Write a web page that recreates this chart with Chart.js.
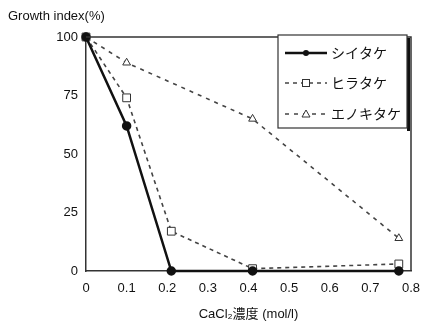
<!DOCTYPE html>
<html>
<head>
<meta charset="utf-8">
<script src="https://cdn.jsdelivr.net/npm/chart.js@4/dist/chart.umd.min.js"></script>
<style>
  body { margin: 0; background: #fff; }
  #wrap { width: 421px; height: 322px; }
</style>
</head>
<body>
<div id="wrap"><canvas id="growthChart"></canvas></div>
<script>
// data
const seriesNames = ["シイタケ", "ヒラタケ", "エノキタケ"];
const concShiitake = [0, 0.1, 0.21, 0.41, 0.77];
const shiitake = [100, 62, 0, 0, 0];
const concHiratake = [0, 0.1, 0.21, 0.41, 0.77];
const hiratake = [100, 74, 17, 1, 3];
const concEnoki = [0, 0.1, 0.41, 0.77];
const enokitake = [100, 89, 65, 14];
const yTicks = [0, 25, 50, 75, 100];

const toPoints = (xs, ys) => xs.map((x, i) => ({ x: x, y: ys[i] }));

const tickFont = { family: "Arial, 'Liberation Sans', sans-serif", size: 13 };
const jpFont = "'Noto Sans CJK JP', sans-serif";

// frame, y title and the boxed legend
const extras = {
  id: "extras",
  afterDraw(chart) {
    const c = chart.ctx;
    const a = chart.chartArea;
    c.save();

    // top and right edge of the plot box
    c.strokeStyle = "#333";
    c.lineWidth = 1.5;
    c.beginPath();
    c.moveTo(a.left, a.top);
    c.lineTo(a.right, a.top);
    c.lineTo(a.right, a.bottom);
    c.stroke();

    // y axis title
    c.fillStyle = "#111";
    c.font = "13px Arial, 'Liberation Sans', sans-serif";
    c.textBaseline = "middle";
    c.fillText("Growth index(%)", 8, 16);

    // legend box with shadow
    const bx = 278, by = 35, bw = 129, bh = 93;
    c.fillStyle = "#fff";
    c.fillRect(bx, by, bw, bh);
    c.fillStyle = "#111";
    c.fillRect(bx + bw, by + 3, 3, bh);
    c.strokeStyle = "#333";
    c.lineWidth = 1.2;
    c.strokeRect(bx, by, bw, bh);

    const rowsY = [53, 83, 114];
    chart.data.datasets.forEach((ds, i) => {
      const y = rowsY[i];
      c.strokeStyle = ds.borderColor;
      c.lineWidth = ds.borderWidth;
      c.setLineDash(ds.borderDash || []);
      c.beginPath();
      c.moveTo(285, y);
      c.lineTo(327, y);
      c.stroke();
      c.setLineDash([]);
      c.lineWidth = 1;
      c.fillStyle = ds.pointBackgroundColor;
      c.strokeStyle = ds.pointBorderColor;
      const px = 306;
      if (ds.pointStyle === "circle") {
        c.beginPath();
        c.arc(px, y, 3, 0, Math.PI * 2);
        c.fill();
      } else if (ds.pointStyle === "rect") {
        c.fillStyle = "#fff";
        c.fillRect(px - 3.5, y - 3.5, 7, 7);
        c.strokeRect(px - 3.5, y - 3.5, 7, 7);
      } else {
        c.fillStyle = "#fff";
        c.beginPath();
        c.moveTo(px, y - 4);
        c.lineTo(px + 4, y + 3);
        c.lineTo(px - 4, y + 3);
        c.closePath();
        c.fill();
        c.stroke();
      }
      c.fillStyle = "#111";
      c.font = "14px " + jpFont;
      c.textBaseline = "middle";
      c.fillText(ds.label, 331, y);
    });

    c.restore();
  }
};

new Chart(document.getElementById("growthChart"), {
  type: "scatter",
  data: {
    datasets: [
      {
        label: seriesNames[0],
        data: toPoints(concShiitake, shiitake),
        showLine: true,
        borderColor: "#111",
        borderWidth: 2.5,
        pointStyle: "circle",
        pointRadius: 3.5,
        pointBackgroundColor: "#111",
        pointBorderColor: "#111",
        order: 1
      },
      {
        label: seriesNames[1],
        data: toPoints(concHiratake, hiratake),
        showLine: true,
        borderColor: "#444",
        borderWidth: 1.6,
        borderDash: [4, 4],
        pointStyle: "rect",
        pointRadius: 5.5,
        pointBackgroundColor: "#fff",
        pointBorderColor: "#333",
        pointBorderWidth: 1,
        order: 2
      },
      {
        label: seriesNames[2],
        data: toPoints(concEnoki, enokitake),
        showLine: true,
        borderColor: "#444",
        borderWidth: 1.6,
        borderDash: [4, 5],
        pointStyle: "triangle",
        pointRadius: 4.5,
        pointBackgroundColor: "#fff",
        pointBorderColor: "#333",
        pointBorderWidth: 1,
        order: 3
      }
    ]
  },
  options: {
    responsive: true,
    maintainAspectRatio: false,
    animation: false,
    clip: false,
    layout: { padding: { top: 37, right: 10, left: 0, bottom: 0 } },
    plugins: {
      legend: { display: false },
      tooltip: { enabled: false }
    },
    scales: {
      x: {
        type: "linear",
        min: 0,
        max: 0.8,
        ticks: {
          stepSize: 0.1,
          color: "#111",
          font: tickFont,
          padding: 10,
          callback: (v) => (v === 0 ? "0" : v.toFixed(1))
        },
        grid: { display: false, drawTicks: false },
        border: { display: true, color: "#333", width: 1.5 },
        title: {
          display: true,
          text: "CaCl₂濃度 (mol/l)",
          color: "#111",
          font: { family: "Arial, " + jpFont, size: 13 },
          padding: { top: 6, bottom: 0 }
        },
        afterFit: (s) => { s.height = 51; s.paddingRight = 0; }
      },
      y: {
        min: 0,
        max: 100,
        afterBuildTicks: (s) => { s.ticks = yTicks.map((v) => ({ value: v })); },
        ticks: { color: "#111", font: tickFont, padding: 8 },
        grid: { display: false, drawTicks: false },
        border: { display: true, color: "#333", width: 1.5 },
        afterFit: (s) => { s.width = 86; }
      }
    }
  },
  plugins: [extras]
});
</script>
</body>
</html>
